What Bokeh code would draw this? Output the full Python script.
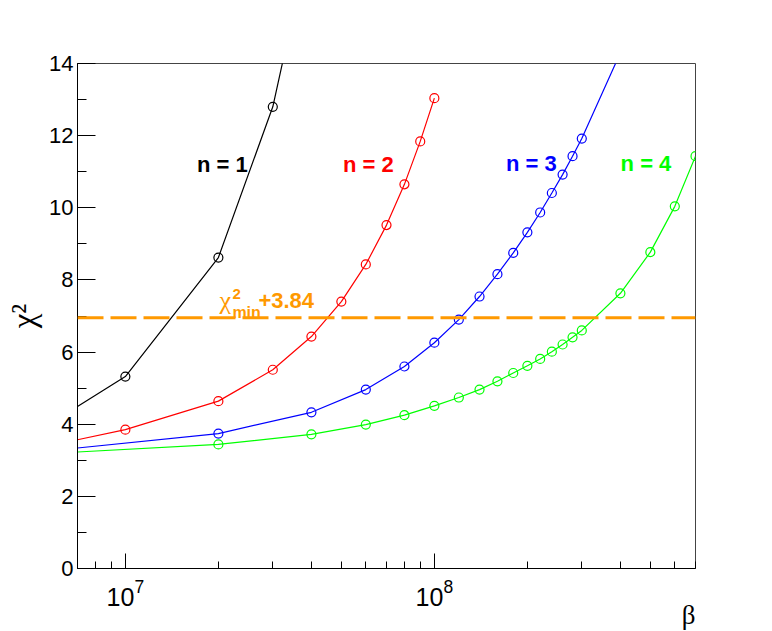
import math
from bokeh.plotting import figure
from bokeh.models import Span, Label, Title, SingleIntervalTicker, LogTicker
from bokeh.embed import file_html
from bokeh.resources import INLINE

# ---------------- data ----------------
n1_x = [1e7, 2e7, 3e7]
n1_y = [5.32, 8.62, 12.80]
n1_line_x = [7e6, 1e7, 2e7, 3e7, 3.5e7]
n1_line_y = [4.49, 5.32, 8.62, 12.80, 15.4]

n2_x = [1e7, 2e7, 3e7, 4e7, 5e7, 6e7, 7e7, 8e7, 9e7, 1e8]
n2_y = [3.85, 4.64, 5.51, 6.43, 7.40, 8.43, 9.52, 10.65, 11.84, 13.04]
n2_line_x = [7e6] + n2_x
n2_line_y = [3.57] + n2_y

n3_x = [2e7, 4e7, 6e7, 8e7, 1e8, 1.2e8, 1.4e8, 1.6e8, 1.8e8, 2e8,
        2.2e8, 2.4e8, 2.6e8, 2.8e8, 3e8]
n3_y = [3.74, 4.33, 4.96, 5.60, 6.26, 6.90, 7.54, 8.16, 8.75, 9.32,
        9.87, 10.41, 10.92, 11.43, 11.92]
n3_line_x = [7e6] + n3_x + [4e8]
n3_line_y = [3.34] + n3_y + [14.3]

n4_x = [2e7, 4e7, 6e7, 8e7, 1e8, 1.2e8, 1.4e8, 1.6e8, 1.8e8, 2e8,
        2.2e8, 2.4e8, 2.6e8, 2.8e8, 3e8, 4e8, 5e8, 6e8, 7e8]
n4_y = [3.44, 3.72, 3.99, 4.25, 4.51, 4.74, 4.96, 5.19, 5.42, 5.62,
        5.81, 6.01, 6.21, 6.41, 6.60, 7.63, 8.77, 10.04, 11.43]
n4_line_x = [7e6] + n4_x
n4_line_y = [3.23] + n4_y

threshold = 6.95
series_names = ["n = 1", "n = 2", "n = 3", "n = 4"]
series_colors = ["black", "#ff0000", "#0000ff", "#00ff00"]
label_x = [2.06e7, 6.11e7, 2.06e8, 4.84e8]
label_y = [11.2, 11.2, 11.24, 11.24]

x_range = (7e6, 7e8)
y_range = (0, 14)
x_title = "β"
y_title = "χ²"

# ---------------- figure ----------------
p = figure(frame_width=618, frame_height=505, x_axis_type="log",
           x_range=x_range, y_range=y_range,
           output_backend="svg", toolbar_location=None,
           min_border_left=77, min_border_right=77,
           min_border_top=63, min_border_bottom=63)
p.grid.visible = False
p.outline_line_color = "#444444"
p.outline_line_width = 1
p.background_fill_color = "white"
p.border_fill_color = "white"

# y axis
p.yaxis.ticker = SingleIntervalTicker(interval=2, num_minor_ticks=2)
p.yaxis.major_tick_in = 18
p.yaxis.major_tick_out = 0
p.yaxis.minor_tick_in = 9
p.yaxis.minor_tick_out = 0
p.yaxis.major_label_standoff = 4
p.yaxis.major_label_text_font = "Liberation Sans"
p.yaxis.major_label_text_font_size = "22px"
p.yaxis.major_label_text_color = "black"
p.yaxis.axis_line_color = "black"
p.yaxis.major_tick_line_color = "black"
p.yaxis.minor_tick_line_color = "black"
p.yaxis.axis_label = y_title
p.yaxis.axis_label_text_font = "Liberation Serif"
p.yaxis.axis_label_text_font_style = "normal"
p.yaxis.axis_label_text_font_size = "33px"
p.yaxis.axis_label_standoff = 4
p.yaxis.axis_label_text_color = "black"

# x axis
p.xaxis.ticker = LogTicker(num_minor_ticks=10)
p.xaxis.major_tick_in = 15
p.xaxis.major_tick_out = 0
p.xaxis.minor_tick_in = 7
p.xaxis.minor_tick_out = 0
p.xaxis.major_label_standoff = 10
p.xaxis.major_label_text_font = "Liberation Sans"
p.xaxis.major_label_text_font_size = "25px"
p.xaxis.major_label_text_color = "black"
p.xaxis.axis_line_color = "black"
p.xaxis.major_tick_line_color = "black"
p.xaxis.minor_tick_line_color = "black"

# x axis title, right-aligned under the frame
p.add_layout(Title(text=x_title, align="right", standoff=-22,
                   text_font="Liberation Serif", text_font_size="27px",
                   text_font_style="normal", text_color="black"), "below")

# threshold line
p.add_layout(Span(location=threshold, dimension="width", line_color="#ff9900",
                  line_width=3, line_dash="26 7"))

# curves and markers
lines = [(n1_line_x, n1_line_y), (n2_line_x, n2_line_y),
         (n3_line_x, n3_line_y), (n4_line_x, n4_line_y)]
marks = [(n1_x, n1_y), (n2_x, n2_y), (n3_x, n3_y), (n4_x, n4_y)]
for (lx, ly), (mx, my), col in zip(lines, marks, series_colors):
    p.line(lx, ly, line_color=col, line_width=1.2)
    p.scatter(mx, my, marker="circle", size=9, fill_alpha=0,
              line_color=col, line_width=1.2)

# series labels
for name, col, lx, ly in zip(series_names, series_colors, label_x, label_y):
    p.add_layout(Label(x=lx, y=ly, text=name, text_color=col,
                       text_font="Liberation Sans", text_font_style="bold",
                       text_font_size="22px", text_align="center",
                       text_baseline="middle"))

# chi2_min + 3.84 label
ox, oy = 2e7, 7.42
orange = "#ff9900"
p.add_layout(Label(x=ox, y=oy, x_offset=1, y_offset=0, text="χ",
                   text_color=orange, text_font="Liberation Serif",
                   text_font_size="26px", text_baseline="alphabetic"))
p.add_layout(Label(x=ox, y=oy, x_offset=14, y_offset=7, text="2",
                   text_color=orange, text_font="Liberation Sans",
                   text_font_style="bold", text_font_size="15px",
                   text_baseline="alphabetic"))
p.add_layout(Label(x=ox, y=oy, x_offset=14, y_offset=-12, text="min",
                   text_color=orange, text_font="Liberation Sans",
                   text_font_style="bold", text_font_size="16px",
                   text_baseline="alphabetic"))
p.add_layout(Label(x=ox, y=oy, x_offset=40, y_offset=0, text="+3.84",
                   text_color=orange, text_font="Liberation Sans",
                   text_font_style="bold", text_font_size="22px",
                   text_baseline="alphabetic"))

open("out.html", "w").write(file_html(p, INLINE))
